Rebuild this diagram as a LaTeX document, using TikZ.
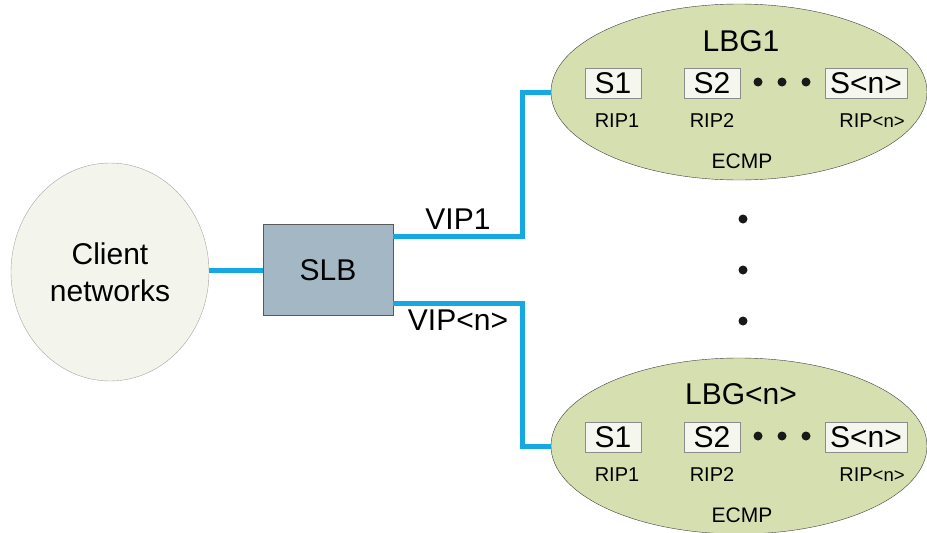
\documentclass[tikz,border=0pt]{standalone}
\usepackage{fontspec}
\setmainfont{Liberation Sans}
\usepackage{tikz}
\usetikzlibrary{positioning,shapes.geometric}

\definecolor{linkblue}{HTML}{15A8E1}
\definecolor{clientfill}{HTML}{F3F5EC}
\definecolor{groupfill}{HTML}{D5DFB0}
\definecolor{slbfill}{HTML}{A3B8C4}
\definecolor{srvfill}{HTML}{F5F6EE}

\newcommand{\bigtxt}{\fontsize{30}{37}\selectfont}
\newcommand{\riptxt}{\fontsize{20}{24}\selectfont}
\newcommand{\smalln}{{\fontsize{18.5}{22}\selectfont<n>}}

\begin{document}
\begin{tikzpicture}[x=1pt,y=-1pt,
    cloud/.style={ellipse,draw=black!35,fill=clientfill,inner sep=0pt},
    group/.style={ellipse,draw=black!75,fill=groupfill,minimum width=376pt,minimum height=176pt,inner sep=0pt},
    slbbox/.style={draw=black!65,fill=slbfill,minimum width=130pt,minimum height=91pt,font=\bigtxt},
    srv/.style={draw=black!45,fill=srvfill,minimum width=56pt,minimum height=30pt,inner xsep=5pt,inner ysep=0pt,font=\bigtxt},
    rip/.style={inner sep=0pt,font=\riptxt},
    dot/.style={circle,fill=black!90,inner sep=0pt,minimum size=9pt},
    link/.style={linkblue,line width=5pt},
    vip/.style={text=black,inner sep=4pt,font=\bigtxt}]

      \useasboundingbox (0,0) rectangle (927,533);

      \node[cloud,minimum width=198pt,minimum height=218pt,align=center,font=\bigtxt] (client) at (110,272) {Client\\networks};
      \node[slbbox] (slb) at (328,270) {SLB};

      %first group
      \node[group] (lbga) at (739,92) {};
      \node[font=\bigtxt] (atitle) at (741,41) {LBG1};
      \node[srv] (a1) at (613,83) {S1};
      \node[srv] (a2) at (712,83) {S2};
      \node[srv] (an) at (866,83) {S<n>};
      \node[dot] (adot1) at (758,82) {};
      \node[dot] (adot2) at (782,82) {};
      \node[dot] (adot3) at (806,82) {};
      \node[rip,below=15pt of a1,xshift=4pt] (arip1) {RIP1};
      \node[rip,below=15pt of a2] (arip2) {RIP2};
      \node[rip,below=15pt of an,xshift=6pt] (aripn) {RIP\smalln};
      \node[font=\fontsize{21}{25}\selectfont] (aecmp) at (742,161) {ECMP};

      %vertical dots
      \node[dot] (vdot1) at (743,219) {};
      \node[dot] (vdot2) at (743,270) {};
      \node[dot] (vdot3) at (743,321) {};

      %last group
      \node[group] (lbgn) at (739,446) {};
      \node[font=\bigtxt] (ntitle) at (741,394) {LBG<n>};
      \node[srv] (n1) at (613,437) {S1};
      \node[srv] (n2) at (712,437) {S2};
      \node[srv] (nn) at (866,437) {S<n>};
      \node[dot] (ndot1) at (758,436) {};
      \node[dot] (ndot2) at (782,436) {};
      \node[dot] (ndot3) at (806,436) {};
      \node[rip,below=15pt of n1,xshift=4pt] (nrip1) {RIP1};
      \node[rip,below=15pt of n2] (nrip2) {RIP2};
      \node[rip,below=15pt of nn,xshift=6pt] (nripn) {RIP\smalln};
      \node[font=\fontsize{21}{25}\selectfont] (necmp) at (742,515) {ECMP};

      %links
      \draw[link] (client.east |- slb.west) -- (slb.west);
      \draw[link] ([yshift=34pt]slb.east) -| node[vip,pos=0.25,above] {VIP1} ([xshift=-28pt]lbga.west) -- (lbga.west);
      \draw[link] ([yshift=-33pt]slb.east) -| node[vip,pos=0.25,below] {VIP<n>} ([xshift=-28pt]lbgn.west) -- (lbgn.west);
    \end{tikzpicture}
\end{document}
